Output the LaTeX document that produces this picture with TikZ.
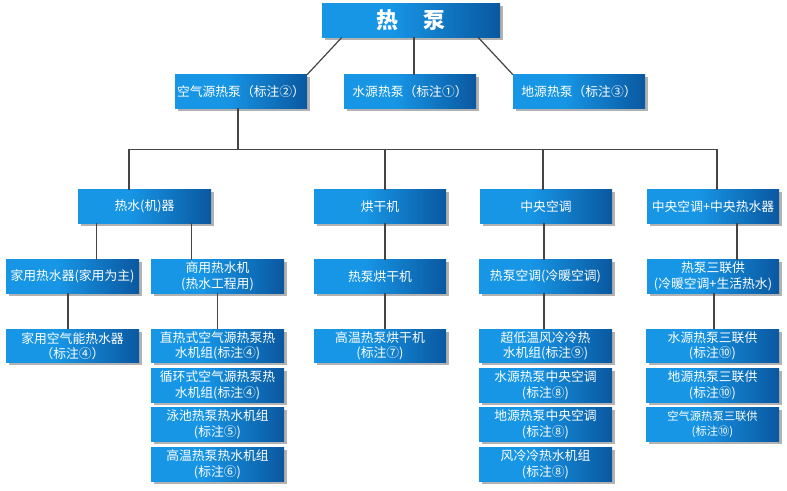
\documentclass[tikz,border=0pt]{standalone}
\usepackage{fontspec}
\newfontfamily\cjk{Noto Sans CJK SC}
\usetikzlibrary{shadows,calc}
\definecolor{bl}{HTML}{1796E6}
\definecolor{bd}{HTML}{0A58A0}
\definecolor{ln}{HTML}{444444}
\pgfdeclarehorizontalshading{boxgrad}{100bp}{color(0bp)=(bl); color(25bp)=(bl); color(44bp)=(bl); color(75bp)=(bd); color(100bp)=(bd)}
\tikzset{
  hbox/.style={rectangle, shading=boxgrad, text=white,
    font=\cjk\fontsize{12.8}{15.5}\selectfont, align=center,
    minimum width=133pt, minimum height=33.5pt, inner sep=0pt,
    drop shadow={shadow xshift=2.5pt, shadow yshift=-2.5pt, opacity=0.3, fill=black}},
  link/.style={draw=ln, line width=1.2pt}
}
\begin{document}
\begin{tikzpicture}[x=1pt,y=-1pt]
\useasboundingbox[fill=white] (0,0) rectangle (787,490);
% level 1
\node[hbox, minimum width=178pt, font=\cjk\bfseries\fontsize{22}{24}\selectfont] (top) at (411,20.5) {热\hspace{25pt}泵};
% level 2
\node[hbox, minimum width=132pt] (air) at (241,91.5) {空气源热泵（标注②）};
\node[hbox, minimum width=132pt] (water) at (410,91.5) {水源热泵（标注①）};
\node[hbox, minimum width=132pt] (ground) at (579,91.5) {地源热泵（标注③）};
% level 3
\node[hbox] (hw) at (144.5,206.5) {热水(机)器};
\node[hbox, minimum width=132pt] (dry) at (380,206.5) {烘干机};
\node[hbox, minimum width=132pt] (ca) at (546,206.5) {中央空调};
\node[hbox, minimum width=132pt] (cahw) at (713,206.5) {中央空调+中央热水器};
% level 4
\node[hbox] (home) at (72.5,276.5) {家用热水器(家用为主)};
\node[hbox] (comm) at (217.5,276.5) {商用热水机\\(热水工程用)};
\node[hbox, minimum width=132pt] (hpdry) at (380,276.5) {热泵烘干机};
\node[hbox] (hpac) at (545.5,276.5) {热泵空调(冷暖空调)};
\node[hbox, minimum width=132pt] (tri) at (713,276.5) {热泵三联供\\(冷暖空调+生活热水)};
% level 5
\node[hbox] (homeA) at (72.5,346) {家用空气能热水器\\（标注④）};
\node[hbox] (commA) at (217.5,346) {直热式空气源热泵热\\水机组(标注④)};
\node[hbox] (commB) at (217.5,385.5) {循环式空气源热泵热\\水机组(标注④)};
\node[hbox] (commC) at (217.5,424.5) {泳池热泵热水机组\\(标注⑤)};
\node[hbox] (commD) at (217.5,464.5) {高温热泵热水机组\\(标注⑥)};
\node[hbox, minimum width=132pt] (dryA) at (380,346) {高温热泵烘干机\\(标注⑦)};
\node[hbox] (acA) at (545.5,346) {超低温风冷冷热\\水机组(标注⑨)};
\node[hbox] (acB) at (545.5,385.5) {水源热泵中央空调\\(标注⑧)};
\node[hbox] (acC) at (545.5,424.5) {地源热泵中央空调\\(标注⑧)};
\node[hbox] (acD) at (545.5,464.5) {风冷冷热水机组\\(标注⑧)};
\node[hbox] (triA) at (712.5,346) {水源热泵三联供\\(标注⑩)};
\node[hbox] (triB) at (712.5,385.5) {地源热泵三联供\\(标注⑩)};
\node[hbox, font=\cjk\fontsize{11.3}{15.5}\selectfont] (triC) at (712.5,424.5) {空气源热泵三联供\\(标注⑩)};
% connectors level 1 -> 2
\draw[link] ($(top.south west)+(20,0)$) -- (air.north east);
\draw[link] ($(water.north)+(4,0)$) coordinate (w1) -- (w1 |- top.south);
\draw[link] ($(top.south east)+(-22,0)$) -- (ground.north west);
% air -> bus
\draw[link] ($(air.south)+(-3,0)$) -- ++(0,41) coordinate (bus);
\coordinate (h1) at ($(hw.north)+(-15.5,0)$);
\coordinate (d1) at ($(dry.north)+(5,0)$);
\coordinate (c1) at ($(ca.north)+(-3,0)$);
\coordinate (k1) at ($(cahw.north)+(4,0)$);
\draw[link] (h1) |- (bus) -| (k1);
\draw[link] (d1) -- (d1 |- bus);
\draw[link] (c1) -- (c1 |- bus);
% level 3 -> 4
\draw[link] ($(hw.south west)+(19,0)$) coordinate (p1) -- (p1 |- home.north);
\draw[link] ($(hw.south west)+(114,0)$) coordinate (p2) -- (p2 |- comm.north);
\draw[link] ($(dry.south)+(5,0)$) coordinate (p3) -- (p3 |- hpdry.north);
\draw[link] ($(ca.south)+(-2,0)$) coordinate (p4) -- (p4 |- hpac.north);
\draw[link] ($(cahw.south)+(24,0)$) coordinate (p5) -- (p5 |- tri.north);
% level 4 -> 5
\draw[link] ($(home.south)+(-4.5,0)$) coordinate (q1) -- (q1 |- homeA.north);
\draw[link] (comm.south) -- (commA.north);
\draw[link] ($(hpdry.south)+(5,0)$) coordinate (q3) -- (q3 |- dryA.north);
\draw[link] ($(hpac.south)+(-1.5,0)$) coordinate (q4) -- (q4 |- acA.north);
\draw[link] ($(tri.south)+(1,0)$) coordinate (q5) -- (q5 |- triA.north);
\end{tikzpicture}
\end{document}
